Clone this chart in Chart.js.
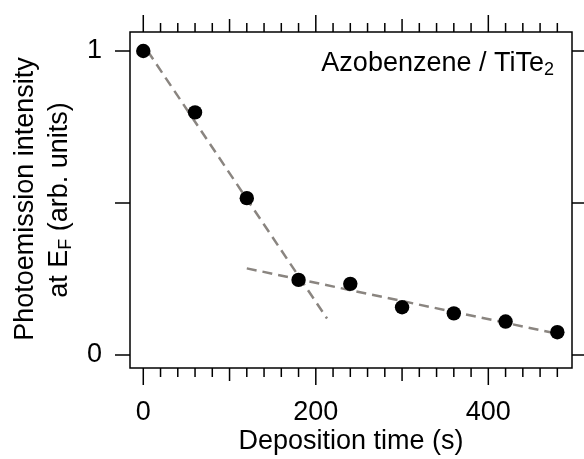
<!DOCTYPE html>
<html>
<head>
<meta charset="utf-8">
<script src="https://cdn.jsdelivr.net/npm/chart.js@4"></script>
<style>
  body { margin: 0; background: #fff; }
  canvas { display: block; }
</style>
</head>
<body>
<canvas id="chartCanvas" width="584" height="459"></canvas>
<script>
// deposition time (s) vs normalised photoemission intensity at E_F
const depositionTime = [0, 60, 120, 180, 240, 300, 360, 420, 480];
const intensity = [1.0, 0.798, 0.516, 0.247, 0.234, 0.157, 0.137, 0.110, 0.075];

// dashed guide lines (end points)
const fastFitX = [5, 213];
const fastFitY = [1.0, 0.12];
const slowFitX = [120, 480];
const slowFitY = [0.285, 0.07];

const xTickLabels = [0, 200, 400];
const xMediumTicks = [100, 300];
const yTickLabels = [0, 1];
const yTickMarks = [0, 0.5, 1];

const FONT = '"Liberation Sans", Arial, Helvetica, sans-serif';
const chartCanvas = document.getElementById('chartCanvas');

function toPoints(xs, ys) {
  return xs.map((x, i) => ({ x: x, y: ys[i] }));
}

// labels must not push the plot area around
function noPadding(s) {
  s.paddingTop = 0;
  s.paddingBottom = 0;
  s.paddingLeft = 0;
  s.paddingRight = 0;
}

// frame, outward ticks on all four sides, titles and the label
const framePlugin = {
  id: 'frame',
  afterDraw(chart) {
    const { ctx, chartArea: a, scales: { x, y } } = chart;
    ctx.save();
    ctx.strokeStyle = '#000';
    ctx.lineWidth = 1.5;
    ctx.strokeRect(a.left, a.top, a.right - a.left, a.bottom - a.top);

    ctx.beginPath();
    for (let v = 0; v <= 480; v += 20) {
      const px = x.getPixelForValue(v);
      let len = 9;
      if (xTickLabels.includes(v)) len = 17;
      else if (xMediumTicks.includes(v)) len = 13;
      ctx.moveTo(px, a.bottom);
      ctx.lineTo(px, a.bottom + len);
      ctx.moveTo(px, a.top);
      ctx.lineTo(px, a.top - len);
    }
    yTickMarks.forEach(v => {
      const py = y.getPixelForValue(v);
      ctx.moveTo(a.left - 15, py);
      ctx.lineTo(a.left, py);
      ctx.moveTo(a.right, py);
      ctx.lineTo(a.right + 15, py);
    });
    ctx.stroke();

    ctx.fillStyle = '#000';
    ctx.textBaseline = 'alphabetic';

    // x title
    ctx.font = '27px ' + FONT;
    ctx.textAlign = 'center';
    ctx.fillText('Deposition time (s)', (a.left + a.right) / 2, 449);

    // sample label, top right
    ctx.textAlign = 'left';
    ctx.font = '27px ' + FONT;
    const main = 'Azobenzene / TiTe';
    const wMain = ctx.measureText(main).width;
    ctx.font = '18px ' + FONT;
    const wSub = ctx.measureText('2').width;
    const startX = 554 - wMain - wSub;
    ctx.font = '27px ' + FONT;
    ctx.fillText(main, startX, 71);
    ctx.font = '18px ' + FONT;
    ctx.fillText('2', startX + wMain, 75);

    // y title, two rotated lines
    ctx.save();
    ctx.translate(33, 199);
    ctx.rotate(-Math.PI / 2);
    ctx.font = '27px ' + FONT;
    ctx.textAlign = 'center';
    ctx.fillText('Photoemission intensity', 0, 0);
    ctx.restore();

    ctx.save();
    ctx.translate(66.5, 200);
    ctx.rotate(-Math.PI / 2);
    ctx.textAlign = 'left';
    ctx.font = '27px ' + FONT;
    const p1 = 'at E', p3 = ' (arb. units)';
    const w1 = ctx.measureText(p1).width;
    const w3 = ctx.measureText(p3).width;
    ctx.font = '18px ' + FONT;
    const w2 = ctx.measureText('F').width;
    let tx = -(w1 + w2 + w3) / 2;
    ctx.font = '27px ' + FONT;
    ctx.fillText(p1, tx, 0);
    ctx.font = '18px ' + FONT;
    ctx.fillText('F', tx + w1, 4);
    ctx.font = '27px ' + FONT;
    ctx.fillText(p3, tx + w1 + w2, 0);
    ctx.restore();

    ctx.restore();
  }
};

const dashStyle = {
  showLine: true,
  borderColor: '#8a8580',
  borderWidth: 2.5,
  borderDash: [10, 6],
  pointRadius: 0,
  order: 1
};

new Chart(chartCanvas, {
  type: 'scatter',
  data: {
    datasets: [
      {
        data: toPoints(depositionTime, intensity),
        backgroundColor: '#000',
        borderWidth: 0,
        pointRadius: 7.2,
        order: 0
      },
      Object.assign({ data: toPoints(fastFitX, fastFitY) }, dashStyle),
      Object.assign({ data: toPoints(slowFitX, slowFitY) }, dashStyle)
    ]
  },
  options: {
    responsive: false,
    animation: false,
    devicePixelRatio: 1,
    layout: { padding: { top: 32, right: 12, left: 0, bottom: 0 } },
    plugins: { legend: { display: false }, tooltip: { enabled: false } },
    scales: {
      x: {
        type: 'linear',
        min: -15.4,
        max: 497,
        grid: { display: false, drawTicks: false },
        border: { display: false },
        ticks: { color: '#000', font: { size: 27, family: FONT }, padding: 28, maxRotation: 0, autoSkip: false },
        afterBuildTicks: s => { s.ticks = xTickLabels.map(v => ({ value: v })); },
        afterFit: s => { s.height = 91; noPadding(s); }
      },
      y: {
        type: 'linear',
        min: -0.0428,
        max: 1.0625,
        grid: { display: false, drawTicks: false },
        border: { display: false },
        ticks: { color: '#000', font: { size: 27, family: FONT }, padding: 28, autoSkip: false },
        afterBuildTicks: s => { s.ticks = yTickLabels.map(v => ({ value: v })); },
        afterFit: s => { s.width = 130; noPadding(s); }
      }
    }
  },
  plugins: [framePlugin]
});
</script>
</body>
</html>
